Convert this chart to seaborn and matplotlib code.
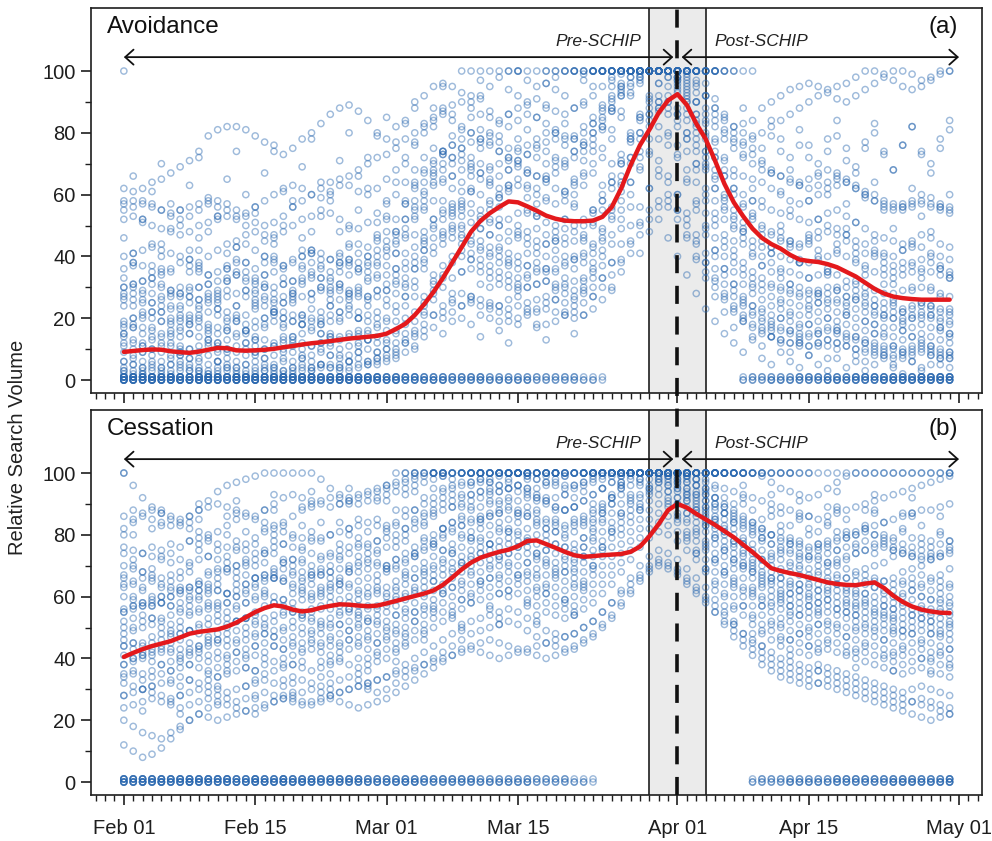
import numpy as np
import pandas as pd
import matplotlib
matplotlib.use("Agg")
import matplotlib.pyplot as plt
import matplotlib.dates as mdates
from matplotlib.lines import Line2D
import seaborn as sns

# ---------------- data ----------------
START = "2015-02-01"
N_DAYS = 89
dates = pd.date_range(START, periods=N_DAYS, freq="D")

tick_dates = ["2015-02-01", "2015-02-15", "2015-03-01", "2015-03-15",
              "2015-04-01", "2015-04-15", "2015-05-01"]
window_start, window_end, schip_date = "2015-03-29", "2015-04-04", "2015-04-01"
panel_titles = ["Avoidance", "Cessation"]
panel_tags = ["(a)", "(b)"]

# smoothed mean (red line)
red_a = [9.1, 9.4, 9.7, 9.9, 9.8, 9.3, 9.0, 8.8, 9.2, 9.8,
         10.4, 10.3, 9.6, 9.5, 9.6, 9.8, 10.1, 10.6, 11.0, 11.5,
         11.9, 12.2, 12.6, 13.0, 13.4, 13.7, 14.0, 14.3, 15.0, 16.5,
         18.2, 21.0, 24.5, 28.5, 33.0, 38.0, 43.0, 48.0, 51.5, 54.0,
         56.0, 57.8, 57.5, 56.2, 54.8, 53.2, 52.2, 51.6, 51.4, 51.4,
         51.6, 52.8, 56.0, 62.0, 69.5, 76.0, 81.0, 86.5, 90.5, 92.5,
         89.0, 83.0, 78.0, 71.0, 63.5, 57.5, 53.0, 49.0, 46.0, 44.0,
         42.5, 40.5, 39.0, 38.5, 38.2, 37.5, 36.5, 35.0, 33.5, 31.5,
         29.5, 28.0, 27.0, 26.5, 26.2, 26.0, 26.0, 26.0, 26.0]
red_b = [40.5, 41.8, 43.0, 44.0, 44.8, 45.6, 46.8, 48.0, 48.6, 49.0,
         49.4, 50.3, 51.6, 53.3, 55.0, 56.3, 57.2, 56.8, 55.8, 55.2,
         55.6, 56.4, 57.0, 57.5, 57.4, 57.1, 56.9, 57.1, 57.8, 58.6,
         59.4, 60.2, 61.0, 62.0, 63.8, 66.2, 68.8, 71.0, 72.6, 73.6,
         74.5, 75.2, 76.3, 78.0, 78.2, 77.0, 75.8, 74.5, 73.4, 72.9,
         73.1, 73.4, 73.6, 73.8, 74.5, 76.2, 79.5, 83.5, 88.0, 90.0,
         88.8, 86.8, 85.0, 83.2, 81.2, 79.2, 76.8, 74.4, 71.8, 69.2,
         68.3, 67.6, 67.0, 66.2, 65.4, 64.6, 64.1, 63.8, 63.7, 64.2,
         64.6, 62.8, 60.3, 58.3, 56.8, 55.8, 55.2, 54.8, 54.7]

# number of series sitting at zero / at 100 on each day
zeros_a = [14, 14, 13, 14, 13, 14, 13, 13, 14, 13,
           13, 12, 13, 12, 13, 12, 12, 13, 12, 12,
           12, 11, 11, 12, 11, 11, 10, 10, 9, 9,
           8, 8, 7, 7, 7, 6, 6, 6, 6, 5,
           5, 5, 5, 5, 4, 4, 4, 4, 4, 3,
           3, 2, 0, 0, 0, 0, 0, 0, 0, 0,
           0, 0, 0, 0, 0, 0, 3, 4, 4, 5,
           5, 5, 6, 6, 6, 7, 7, 7, 8, 8,
           8, 9, 9, 9, 9, 10, 10, 10, 10]
hund_a = [1, 0, 0, 0, 0, 0, 0, 0, 0, 0,
          0, 0, 0, 0, 0, 0, 0, 0, 0, 0,
          0, 0, 0, 0, 0, 0, 0, 0, 0, 0,
          0, 0, 0, 0, 0, 0, 1, 1, 1, 1,
          1, 1, 1, 1, 1, 2, 1, 2, 3, 3,
          4, 5, 6, 7, 8, 9, 10, 11, 12, 12,
          11, 9, 7, 5, 3, 2, 1, 1, 0, 0,
          0, 0, 0, 0, 0, 0, 0, 0, 0, 0,
          0, 0, 0, 0, 0, 0, 0, 0, 0]
zeros_b = [10, 10, 11, 10, 11, 10, 10, 11, 10, 10,
           10, 10, 9, 9, 10, 9, 9, 10, 9, 9,
           9, 8, 8, 8, 8, 8, 7, 7, 7, 7,
           7, 7, 6, 6, 6, 6, 6, 6, 5, 5,
           5, 5, 5, 5, 4, 4, 4, 4, 3, 3,
           2, 0, 0, 0, 0, 0, 0, 0, 0, 0,
           0, 0, 0, 0, 0, 0, 0, 3, 4, 4,
           4, 5, 5, 5, 5, 5, 6, 6, 6, 6,
           6, 6, 7, 7, 7, 7, 7, 7, 8]
hund_b = [1, 0, 0, 0, 0, 0, 0, 0, 0, 0,
          0, 0, 0, 0, 0, 0, 0, 0, 0, 0,
          0, 0, 0, 0, 0, 0, 0, 0, 0, 1,
          2, 2, 2, 3, 3, 3, 4, 4, 5, 5,
          6, 6, 7, 7, 6, 5, 5, 4, 4, 4,
          5, 6, 7, 8, 10, 12, 14, 15, 16, 16,
          15, 13, 11, 9, 7, 6, 5, 4, 4, 3,
          3, 3, 2, 2, 1, 1, 1, 1, 1, 1,
          1, 1, 1, 1, 1, 1, 1, 1, 1]

# individual search-volume series, panel (a)
a01 = [62, 61, 62, 64, 65, 67, 69, 71, 74, 79, 81, 82, 82, 81, 79, 77, 74, 73, 75, 78,
       80, 83, 86, 88, 89, 87, 84, 80, 78, 82, 84, 88, 92, 95, 96, 95, 93, 90, 92, 95,
       98, 100, 100, 97, 95, 96, 98, 100, 100, 99, 100, 100, 98, 100, 100, 100, 100, 100, 100, 100,
       98, 95, 92, 88, 85, 82, 80, 84, 88, 90, 92, 94, 95, 96, 95, 93, 91, 90, 92, 94,
       96, 98, 100, 100, 99, 97, 98, 100, 100]
a02 = [57, 58, 57, 56, 55, 54, 55, 56, 57, 58, 56, 55, 53, 54, 56, 58, 60, 61, 63, 62,
       60, 59, 61, 63, 66, 68, 70, 72, 73, 75, 78, 80, 83, 85, 86, 84, 82, 80, 78, 77,
       79, 82, 84, 86, 85, 83, 80, 78, 79, 82, 85, 88, 92, 96, 100, 100, 100, 100, 100, 98,
       95, 90, 84, 78, 72, 68, 66, 65, 64, 62, 60, 58, 57, 58, 60, 62, 63, 64, 62, 60,
       58, 56, 55, 56, 58, 60, 59, 57, 56]
a03 = [52, 53, 51, 50, 49, 48, 47, 48, 50, 51, 52, 53, 52, 50, 48, 47, 46, 48, 50, 52,
       53, 55, 54, 52, 50, 49, 51, 54, 57, 60, 64, 68, 72, 75, 73, 70, 68, 66, 67, 69,
       70, 72, 70, 68, 66, 65, 67, 70, 72, 74, 78, 82, 87, 92, 96, 99, 100, 100, 100, 97,
       92, 86, 80, 74, 68, 62, 57, 53, 50, 48, 46, 45, 44, 46, 48, 50, 49, 47, 45, 44,
       42, 41, 40, 42, 44, 43, 41, 40, 39]
a04 = [40, 41, 42, 43, 42, 41, 40, 39, 38, 40, 42, 44, 45, 44, 42, 40, 38, 37, 38, 40,
       42, 41, 39, 38, 37, 38, 40, 42, 45, 48, 52, 56, 60, 63, 65, 66, 64, 62, 60, 58,
       59, 61, 63, 62, 60, 58, 57, 58, 60, 63, 67, 72, 78, 85, 92, 96, 100, 100, 98, 95,
       88, 80, 72, 65, 58, 52, 48, 45, 43, 41, 40, 39, 38, 38, 39, 40, 41, 40, 38, 36,
       35, 34, 33, 34, 35, 36, 35, 34, 33]
a05 = [30, 31, 32, 31, 30, 29, 28, 29, 30, 31, 32, 33, 34, 33, 32, 31, 30, 31, 32, 33,
       34, 33, 32, 30, 29, 28, 27, 29, 31, 34, 38, 43, 48, 52, 55, 57, 56, 54, 52, 51,
       50, 52, 54, 55, 53, 51, 50, 49, 50, 52, 55, 60, 66, 73, 80, 86, 90, 92, 90, 86,
       80, 74, 68, 62, 56, 50, 46, 43, 40, 38, 36, 35, 34, 33, 34, 35, 34, 32, 31, 30,
       29, 28, 28, 29, 30, 30, 29, 28, 27]
a06 = [27, 28, 26, 25, 26, 27, 28, 27, 26, 25, 26, 27, 28, 29, 28, 27, 26, 25, 26, 27,
       28, 29, 30, 29, 28, 27, 26, 27, 29, 32, 36, 40, 45, 50, 54, 56, 58, 57, 55, 52,
       50, 48, 47, 46, 45, 44, 45, 46, 48, 50, 54, 58, 64, 70, 78, 85, 92, 96, 98, 94,
       86, 78, 70, 62, 55, 49, 44, 40, 37, 35, 33, 31, 30, 29, 28, 28, 29, 30, 29, 27,
       26, 25, 24, 23, 24, 25, 24, 23, 22]
a07 = [19, 20, 21, 20, 19, 18, 19, 20, 21, 22, 21, 20, 19, 18, 19, 20, 21, 22, 21, 20,
       19, 20, 21, 22, 23, 22, 21, 22, 24, 28, 33, 38, 44, 49, 52, 54, 53, 51, 49, 47,
       46, 45, 46, 48, 49, 47, 45, 44, 45, 47, 50, 55, 62, 70, 78, 84, 88, 90, 88, 84,
       78, 70, 62, 54, 47, 42, 38, 35, 33, 31, 30, 29, 28, 28, 29, 30, 29, 27, 26, 25,
       24, 23, 22, 22, 23, 24, 23, 22, 21]
a08 = [17, 18, 17, 16, 15, 16, 17, 18, 19, 18, 17, 16, 15, 16, 17, 18, 19, 20, 19, 18,
       17, 18, 19, 20, 21, 20, 19, 18, 20, 24, 30, 36, 42, 46, 48, 50, 49, 47, 45, 43,
       42, 41, 40, 41, 43, 44, 42, 40, 39, 40, 43, 48, 55, 63, 72, 80, 86, 90, 92, 88,
       80, 70, 60, 52, 45, 40, 36, 33, 31, 30, 29, 28, 27, 26, 25, 25, 26, 27, 26, 24,
       22, 21, 20, 20, 21, 22, 21, 20, 19]
a09 = [14, 13, 12, 13, 14, 15, 16, 15, 14, 13, 12, 13, 14, 15, 14, 13, 12, 13, 14, 15,
       16, 15, 14, 13, 14, 15, 16, 17, 19, 22, 27, 32, 38, 43, 46, 48, 46, 44, 42, 40,
       38, 37, 36, 37, 38, 40, 39, 37, 36, 38, 41, 46, 53, 61, 70, 78, 84, 88, 90, 86,
       78, 68, 58, 50, 43, 38, 34, 31, 29, 27, 26, 25, 24, 24, 25, 26, 25, 24, 23, 22,
       21, 20, 20, 19, 20, 21, 20, 19, 18]
a10 = [11, 12, 11, 10, 11, 12, 11, 10, 11, 12, 11, 10, 11, 12, 11, 10, 11, 12, 13, 12,
       11, 12, 13, 14, 15, 14, 13, 14, 16, 19, 24, 30, 36, 41, 44, 46, 47, 45, 43, 41,
       40, 39, 38, 37, 36, 35, 36, 38, 39, 41, 44, 49, 56, 64, 72, 80, 86, 88, 86, 82,
       74, 64, 54, 46, 40, 35, 31, 28, 26, 24, 23, 22, 21, 21, 22, 23, 22, 21, 20, 19,
       18, 17, 17, 16, 17, 18, 17, 16, 15]
a11 = [9, 8, 9, 10, 9, 8, 9, 10, 9, 8, 9, 10, 9, 8, 9, 10, 11, 10, 9, 10,
       11, 12, 11, 10, 11, 12, 13, 12, 13, 15, 18, 22, 27, 32, 37, 40, 42, 41, 39, 37,
       35, 34, 33, 34, 35, 36, 35, 33, 32, 33, 36, 40, 47, 55, 64, 72, 78, 82, 80, 76,
       68, 58, 50, 42, 36, 31, 27, 24, 22, 21, 20, 19, 18, 18, 19, 20, 19, 18, 17, 16,
       15, 14, 14, 13, 14, 15, 14, 13, 12]
a12 = [6, 7, 6, 5, 6, 7, 8, 7, 6, 5, 6, 7, 6, 5, 6, 7, 8, 7, 6, 7,
       8, 9, 8, 7, 8, 9, 10, 9, 10, 12, 15, 19, 24, 29, 34, 38, 40, 39, 37, 35,
       33, 32, 31, 30, 31, 32, 31, 30, 29, 30, 33, 37, 44, 52, 60, 68, 74, 78, 76, 72,
       64, 55, 47, 40, 34, 29, 25, 22, 20, 18, 17, 16, 15, 15, 16, 17, 16, 15, 14, 13,
       12, 11, 11, 10, 11, 12, 11, 10, 9]
a13 = [4, 5, 4, 3, 4, 5, 6, 5, 4, 3, 4, 5, 4, 3, 4, 5, 4, 3, 4, 5,
       6, 5, 4, 5, 6, 7, 6, 7, 8, 10, 12, 15, 18, 21, 24, 26, 28, 27, 26, 25,
       24, 23, 24, 25, 26, 27, 26, 25, 24, 25, 27, 30, 34, 39, 45, 50, 55, 58, 56, 52,
       46, 40, 35, 30, 26, 22, 19, 17, 15, 14, 13, 12, 12, 11, 12, 13, 12, 11, 10, 10,
       9, 9, 8, 8, 9, 10, 9, 8, 8]
a14 = [24, 26, 28, 25, 22, 20, 23, 27, 30, 28, 25, 22, 24, 27, 29, 26, 23, 25, 28, 31,
       33, 30, 28, 31, 34, 36, 38, 40, 43, 47, 52, 58, 64, 70, 74, 76, 75, 72, 70, 68,
       66, 68, 71, 73, 72, 70, 69, 71, 74, 77, 80, 84, 88, 92, 95, 98, 100, 100, 100, 96,
       90, 84, 78, 72, 66, 62, 60, 58, 56, 55, 54, 53, 52, 51, 52, 54, 55, 53, 51, 49,
       47, 46, 45, 44, 45, 47, 46, 44, 43]
a15 = [36, 38, 37, 35, 34, 36, 38, 37, 35, 34, 35, 37, 39, 38, 36, 34, 35, 37, 39, 40,
       38, 36, 35, 37, 39, 41, 43, 45, 48, 52, 57, 62, 67, 71, 74, 76, 78, 80, 81, 79,
       77, 75, 74, 76, 78, 80, 81, 79, 78, 80, 83, 87, 91, 95, 98, 100, 100, 100, 100, 98,
       94, 90, 86, 82, 78, 75, 72, 70, 68, 67, 66, 65, 64, 65, 67, 68, 67, 65, 63, 61,
       60, 58, 57, 56, 57, 58, 57, 56, 55]
a16 = [2, 3, 2, 1, 2, 3, 4, 3, 2, 1, 2, 3, 2, 1, 2, 3, 4, 3, 2, 3,
       4, 5, 4, 3, 4, 5, 6, 5, 6, 7, 9, 11, 14, 17, 20, 22, 24, 25, 24, 23,
       22, 21, 20, 21, 22, 23, 22, 21, 20, 21, 23, 26, 30, 35, 41, 47, 52, 56, 58, 55,
       50, 44, 38, 33, 28, 24, 21, 18, 16, 14, 13, 12, 11, 11, 12, 13, 12, 11, 10, 9,
       8, 8, 7, 7, 8, 9, 8, 7, 7]
a17 = [15, 17, 20, 22, 24, 23, 21, 19, 17, 16, 15, 17, 19, 21, 23, 24, 22, 20, 19, 18,
       20, 22, 24, 26, 28, 30, 32, 34, 37, 41, 46, 52, 58, 64, 68, 72, 75, 77, 78, 76,
       74, 72, 71, 73, 75, 77, 78, 76, 74, 76, 80, 85, 90, 95, 100, 100, 100, 100, 100, 100,
       97, 93, 88, 84, 80, 78, 77, 78, 80, 82, 84, 86, 88, 90, 92, 94, 95, 96, 98, 100,
       100, 99, 97, 95, 94, 95, 97, 99, 100]
a18 = [55, 56, 58, 57, 55, 53, 52, 53, 55, 57, 58, 57, 55, 53, 51, 50, 51, 53, 56, 58,
       60, 62, 64, 65, 63, 61, 60, 62, 65, 68, 72, 76, 80, 84, 87, 89, 90, 88, 86, 85,
       84, 86, 88, 90, 91, 89, 87, 86, 88, 90, 92, 95, 97, 99, 100, 100, 100, 100, 100, 100,
       99, 96, 92, 88, 84, 80, 76, 73, 70, 68, 66, 64, 63, 62, 63, 64, 65, 64, 62, 60,
       58, 57, 56, 55, 56, 57, 56, 55, 54]
a19 = [3, 2, 3, 4, 3, 2, 3, 4, 3, 2, 3, 4, 3, 2, 3, 4, 3, 2, 3, 4,
       3, 4, 5, 4, 3, 4, 5, 6, 7, 9, 12, 16, 21, 26, 30, 33, 35, 36, 35, 33,
       31, 30, 29, 30, 31, 32, 30, 28, 27, 28, 30, 33, 38, 44, 50, 56, 62, 66, 64, 60,
       54, 47, 41, 36, 31, 27, 24, 21, 19, 17, 16, 15, 14, 14, 15, 16, 15, 14, 13, 12,
       11, 10, 10, 9, 10, 11, 10, 9, 9]
a20 = [28, 30, 32, 33, 31, 29, 27, 25, 24, 26, 29, 32, 34, 35, 33, 30, 28, 27, 29, 32,
       35, 37, 39, 40, 38, 36, 35, 37, 40, 44, 49, 55, 61, 66, 70, 72, 71, 68, 65, 63,
       62, 63, 65, 67, 66, 64, 62, 61, 63, 66, 70, 75, 81, 87, 93, 98, 100, 100, 100, 98,
       93, 86, 79, 72, 66, 60, 56, 52, 49, 47, 45, 44, 43, 44, 46, 48, 47, 45, 43, 41,
       40, 38, 37, 36, 37, 39, 38, 36, 35]
a21 = [18, 24, 15, 22, 27, 19, 14, 21, 26, 17, 23, 29, 20, 16, 24, 30, 22, 18, 25, 21,
       28, 19, 24, 31, 26, 20, 27, 33, 29, 36, 41, 47, 39, 52, 58, 49, 55, 61, 53, 47,
       56, 62, 50, 44, 53, 59, 48, 52, 57, 46, 55, 63, 70, 66, 79, 85, 91, 96, 100, 93,
       84, 76, 69, 58, 52, 45, 49, 41, 37, 43, 35, 31, 38, 33, 27, 34, 30, 25, 32, 28,
       24, 31, 26, 22, 29, 25, 21, 27, 23]
a22 = [33, 41, 29, 37, 44, 35, 30, 39, 46, 34, 28, 36, 43, 38, 31, 40, 47, 36, 32, 42,
       48, 39, 33, 41, 49, 44, 37, 46, 52, 48, 57, 63, 55, 68, 74, 66, 61, 70, 77, 65,
       59, 68, 75, 63, 57, 66, 72, 60, 64, 71, 76, 82, 88, 94, 100, 97, 100, 100, 95, 100,
       91, 83, 74, 68, 60, 55, 51, 58, 47, 43, 50, 45, 39, 47, 42, 36, 44, 49, 41, 37,
       45, 40, 35, 42, 38, 33, 40, 36, 34]
a23 = [6, 10, 4, 8, 12, 5, 9, 3, 7, 11, 6, 9, 4, 10, 13, 7, 5, 9, 12, 8,
       4, 10, 14, 8, 6, 11, 15, 9, 12, 16, 20, 14, 25, 31, 22, 28, 35, 26, 21, 30,
       24, 19, 27, 33, 23, 18, 26, 31, 22, 29, 35, 42, 38, 49, 56, 51, 62, 68, 60, 55,
       47, 39, 33, 27, 22, 17, 20, 14, 11, 16, 12, 9, 13, 8, 11, 7, 10, 13, 8, 6,
       10, 7, 5, 9, 6, 4, 8, 5, 7]
a24 = [46, 38, 52, 44, 36, 49, 55, 42, 37, 48, 53, 41, 35, 47, 56, 45, 39, 50, 58, 46,
       41, 53, 60, 48, 43, 55, 62, 51, 58, 64, 70, 77, 68, 82, 88, 79, 73, 85, 91, 80,
       74, 86, 92, 81, 76, 88, 94, 83, 78, 89, 95, 100, 100, 100, 100, 100, 100, 100, 100, 100,
       96, 90, 83, 77, 71, 66, 73, 62, 58, 67, 61, 55, 63, 58, 52, 60, 66, 57, 51, 59,
       64, 55, 49, 57, 62, 53, 48, 56, 60]
a25 = [12, 17, 9, 14, 19, 11, 8, 15, 20, 13, 10, 16, 21, 12, 9, 17, 22, 14, 11, 18,
       23, 15, 12, 19, 24, 16, 13, 20, 26, 31, 27, 36, 42, 34, 47, 53, 44, 39, 49, 55,
       43, 38, 48, 54, 41, 36, 46, 52, 40, 45, 51, 58, 64, 71, 77, 74, 82, 87, 79, 73,
       65, 57, 49, 42, 36, 31, 26, 30, 23, 19, 25, 21, 17, 23, 28, 20, 16, 22, 27, 19,
       15, 21, 25, 18, 14, 20, 24, 17, 15]
a26 = [26, 31, 22, 28, 35, 24, 20, 30, 36, 27, 23, 32, 38, 29, 25, 34, 40, 31, 27, 36,
       42, 33, 29, 38, 44, 35, 40, 47, 53, 45, 58, 64, 56, 67, 73, 62, 57, 69, 75, 64,
       60, 71, 78, 67, 62, 74, 80, 69, 65, 76, 83, 89, 95, 100, 100, 100, 100, 100, 100, 100,
       100, 97, 92, 86, 81, 77, 83, 75, 71, 79, 74, 68, 76, 72, 66, 74, 79, 71, 67, 75,
       80, 73, 68, 76, 82, 74, 70, 78, 84]
a27 = [3, 5, 2, 6, 4, 1, 5, 7, 3, 2, 6, 4, 1, 5, 8, 3, 2, 6, 4, 7,
       3, 5, 8, 4, 6, 9, 5, 7, 10, 8, 13, 10, 16, 21, 15, 19, 24, 18, 14, 20,
       16, 12, 18, 23, 17, 13, 19, 22, 15, 21, 27, 33, 29, 38, 44, 41, 48, 52, 46, 40,
       34, 28, 23, 19, 15, 12, 9, 13, 7, 5, 9, 6, 4, 8, 5, 3, 7, 4, 6, 3,
       5, 8, 4, 2, 6, 3, 5, 7, 4]
a28 = [58, 66, 52, 61, 70, 57, 50, 63, 72, 59, 53, 65, 74, 60, 54, 67, 76, 62, 56, 69,
       78, 64, 58, 71, 80, 66, 72, 79, 85, 77, 83, 90, 82, 88, 95, 86, 81, 92, 97, 87,
       83, 94, 100, 89, 85, 96, 100, 92, 88, 97, 100, 100, 100, 100, 100, 100, 100, 100, 100, 100,
       100, 100, 96, 91, 86, 82, 88, 79, 75, 84, 78, 72, 81, 76, 70, 78, 84, 75, 69, 77,
       83, 74, 68, 76, 82, 73, 67, 75, 81]
a29 = [30, 37, 25, 33, 40, 28, 24, 35, 42, 31, 27, 36, 43, 32, 26, 38, 44, 33, 28, 37,
       41, 30, 26, 35, 39, 29, 33, 38, 42, 36, 31, 27, 22, 28, 33, 25, 20, 27, 31, 24,
       19, 26, 30, 22, 18, 25, 29, 21, 26, 32, 38, 45, 52, 58, 64, 69, 73, 71, 66, 60,
       52, 45, 38, 32, 27, 23, 19, 24, 17, 14, 20, 16, 12, 18, 15, 11, 17, 21, 14, 12,
       18, 15, 11, 16, 20, 13, 11, 17, 14]
a30 = [15, 20, 11, 17, 22, 14, 10, 18, 23, 15, 12, 19, 24, 16, 13, 20, 25, 17, 14, 21,
       26, 18, 15, 22, 27, 20, 24, 29, 34, 41, 47, 53, 46, 58, 64, 55, 50, 61, 67, 57,
       52, 63, 69, 59, 54, 65, 71, 61, 56, 67, 74, 81, 87, 93, 98, 100, 100, 100, 100, 97,
       90, 82, 74, 66, 59, 53, 48, 54, 45, 41, 48, 43, 38, 45, 40, 35, 42, 47, 39, 34,
       41, 36, 31, 38, 43, 35, 30, 37, 33]

# individual search-volume series, panel (b)
b01 = [100, 96, 92, 89, 87, 86, 85, 86, 88, 91, 94, 96, 97, 98, 99, 100, 100, 100, 100, 100,
       100, 98, 95, 93, 92, 93, 94, 95, 96, 97, 98, 100, 100, 100, 100, 100, 100, 100, 100, 100,
       100, 100, 100, 100, 100, 100, 100, 100, 100, 100, 100, 100, 100, 100, 100, 100, 100, 100, 100, 100,
       100, 100, 100, 100, 100, 100, 100, 100, 99, 97, 95, 94, 93, 92, 93, 95, 97, 99, 100, 100,
       100, 100, 100, 100, 100, 100, 100, 100, 100]
b02 = [82, 84, 86, 88, 87, 85, 83, 82, 81, 80, 81, 83, 85, 86, 85, 84, 83, 84, 86, 88,
       90, 91, 92, 92, 91, 90, 91, 92, 93, 94, 95, 96, 97, 98, 99, 100, 100, 100, 100, 100,
       100, 100, 100, 99, 98, 97, 98, 99, 100, 100, 100, 100, 100, 100, 100, 100, 100, 100, 100, 100,
       100, 98, 95, 92, 89, 87, 85, 83, 82, 80, 79, 78, 77, 76, 77, 78, 79, 80, 81, 82,
       83, 84, 85, 86, 87, 88, 88, 89, 90]
b03 = [76, 75, 74, 73, 72, 74, 76, 78, 79, 78, 77, 76, 75, 77, 79, 81, 82, 81, 80, 79,
       78, 79, 80, 81, 82, 83, 84, 83, 82, 84, 86, 88, 90, 92, 94, 95, 96, 97, 98, 97,
       96, 95, 94, 93, 92, 91, 92, 93, 95, 96, 97, 98, 99, 100, 100, 100, 100, 100, 100, 100,
       99, 96, 93, 90, 87, 84, 82, 80, 78, 77, 76, 75, 74, 73, 72, 71, 72, 73, 74, 75,
       76, 77, 76, 75, 74, 73, 72, 73, 74]
b04 = [70, 69, 68, 67, 66, 67, 68, 70, 72, 73, 72, 71, 70, 71, 72, 74, 76, 77, 76, 75,
       74, 73, 74, 75, 76, 77, 76, 75, 76, 78, 80, 82, 84, 86, 88, 89, 90, 91, 92, 93,
       94, 95, 96, 95, 93, 91, 89, 88, 89, 91, 93, 95, 97, 99, 100, 100, 100, 100, 100, 99,
       97, 94, 91, 88, 85, 82, 79, 77, 75, 73, 72, 71, 70, 69, 70, 71, 70, 69, 68, 67,
       66, 65, 64, 65, 66, 67, 66, 65, 64]
b05 = [64, 65, 66, 65, 64, 63, 62, 63, 65, 67, 68, 69, 68, 67, 66, 67, 69, 71, 72, 71,
       70, 69, 68, 69, 70, 71, 72, 71, 70, 72, 74, 76, 78, 80, 82, 84, 86, 88, 89, 90,
       91, 92, 91, 89, 87, 85, 84, 83, 84, 86, 88, 90, 93, 96, 99, 100, 100, 100, 100, 98,
       95, 92, 89, 86, 83, 80, 77, 74, 72, 70, 69, 68, 67, 66, 67, 68, 67, 66, 65, 64,
       63, 62, 62, 61, 62, 63, 62, 61, 60]
b06 = [60, 59, 58, 57, 58, 60, 62, 63, 64, 63, 62, 61, 62, 64, 66, 67, 66, 65, 64, 65,
       66, 67, 66, 65, 64, 65, 66, 67, 68, 69, 71, 73, 75, 77, 79, 81, 83, 85, 86, 87,
       88, 89, 88, 86, 84, 82, 81, 80, 81, 83, 85, 87, 90, 93, 96, 98, 100, 100, 99, 97,
       94, 91, 88, 85, 82, 78, 75, 72, 70, 68, 66, 65, 64, 63, 64, 65, 64, 63, 62, 61,
       60, 59, 58, 58, 59, 60, 59, 58, 57]
b07 = [56, 57, 58, 59, 58, 57, 56, 57, 59, 61, 62, 61, 60, 61, 63, 65, 66, 65, 63, 62,
       61, 62, 63, 64, 63, 62, 61, 62, 63, 65, 67, 69, 71, 73, 75, 77, 79, 81, 82, 83,
       84, 85, 84, 82, 80, 78, 77, 76, 77, 79, 81, 84, 87, 90, 93, 96, 98, 99, 98, 96,
       93, 90, 87, 84, 81, 77, 74, 71, 68, 66, 64, 63, 62, 61, 62, 63, 62, 61, 60, 59,
       58, 57, 56, 55, 56, 57, 56, 55, 54]
b08 = [52, 53, 54, 53, 52, 51, 52, 54, 56, 57, 56, 55, 56, 58, 60, 61, 60, 59, 58, 59,
       60, 61, 60, 59, 58, 59, 60, 61, 60, 62, 64, 66, 68, 70, 72, 74, 76, 78, 79, 80,
       81, 82, 81, 79, 77, 75, 74, 73, 74, 76, 78, 81, 84, 87, 90, 93, 96, 98, 97, 95,
       92, 89, 86, 83, 80, 76, 73, 70, 67, 64, 62, 61, 60, 59, 60, 61, 60, 59, 58, 57,
       56, 55, 54, 53, 54, 55, 54, 53, 52]
b09 = [48, 49, 50, 51, 50, 49, 48, 49, 51, 53, 54, 53, 52, 53, 55, 57, 58, 57, 56, 55,
       56, 57, 58, 57, 56, 55, 56, 57, 58, 59, 61, 63, 65, 67, 69, 71, 73, 75, 76, 77,
       78, 79, 78, 76, 74, 72, 71, 70, 71, 73, 75, 78, 81, 84, 88, 92, 95, 97, 96, 94,
       91, 88, 85, 82, 78, 74, 71, 68, 65, 62, 60, 59, 58, 57, 58, 59, 58, 57, 56, 55,
       54, 53, 52, 51, 52, 53, 52, 51, 50]
b10 = [46, 45, 44, 45, 46, 47, 48, 49, 48, 47, 48, 50, 52, 53, 52, 51, 52, 54, 55, 54,
       53, 52, 53, 54, 55, 54, 53, 54, 55, 57, 59, 61, 63, 65, 67, 69, 71, 73, 74, 75,
       76, 77, 76, 74, 72, 70, 69, 68, 69, 71, 73, 76, 79, 82, 86, 90, 93, 95, 94, 92,
       89, 86, 83, 80, 76, 72, 69, 66, 63, 60, 58, 57, 56, 55, 56, 57, 56, 55, 54, 53,
       52, 51, 50, 49, 50, 51, 50, 49, 48]
b11 = [44, 43, 42, 43, 44, 45, 46, 45, 44, 45, 46, 48, 49, 50, 51, 50, 49, 50, 52, 53,
       52, 51, 50, 51, 52, 53, 52, 51, 52, 54, 56, 58, 60, 62, 64, 66, 68, 70, 71, 72,
       73, 74, 73, 71, 69, 67, 66, 65, 66, 68, 70, 73, 76, 80, 84, 88, 91, 93, 92, 90,
       87, 84, 81, 77, 73, 69, 66, 63, 60, 58, 56, 55, 54, 53, 54, 55, 54, 53, 52, 51,
       50, 49, 48, 47, 48, 49, 48, 47, 46]
b12 = [41, 40, 41, 42, 43, 42, 41, 42, 43, 44, 45, 44, 45, 46, 47, 48, 47, 46, 47, 48,
       49, 48, 47, 48, 49, 50, 49, 48, 49, 51, 53, 55, 57, 59, 61, 63, 65, 67, 68, 69,
       70, 71, 70, 68, 66, 64, 63, 62, 63, 65, 67, 70, 73, 77, 81, 85, 88, 90, 89, 87,
       84, 81, 78, 74, 70, 66, 63, 60, 57, 55, 53, 52, 51, 50, 51, 52, 51, 50, 49, 48,
       47, 46, 45, 44, 45, 46, 45, 44, 43]
b13 = [38, 39, 40, 39, 38, 39, 40, 41, 42, 41, 40, 41, 42, 43, 44, 45, 44, 43, 44, 45,
       46, 45, 44, 45, 46, 47, 46, 45, 46, 48, 50, 52, 54, 56, 58, 60, 62, 64, 65, 66,
       67, 68, 67, 65, 63, 61, 60, 59, 60, 62, 64, 67, 70, 74, 78, 82, 85, 87, 86, 84,
       81, 78, 75, 71, 67, 63, 60, 57, 54, 52, 50, 49, 48, 47, 48, 49, 48, 47, 46, 45,
       44, 43, 42, 41, 42, 43, 42, 41, 40]
b14 = [35, 36, 35, 34, 35, 36, 37, 38, 37, 36, 37, 38, 39, 40, 41, 40, 39, 40, 41, 42,
       43, 42, 41, 42, 43, 44, 43, 42, 43, 45, 47, 49, 51, 53, 55, 57, 59, 61, 62, 63,
       64, 65, 64, 62, 60, 58, 57, 56, 57, 59, 61, 64, 67, 71, 75, 79, 82, 84, 83, 81,
       78, 75, 72, 68, 64, 60, 57, 54, 51, 49, 47, 46, 45, 44, 45, 46, 45, 44, 43, 42,
       41, 40, 39, 38, 39, 40, 39, 38, 37]
b15 = [32, 31, 30, 31, 32, 33, 34, 33, 32, 33, 34, 35, 36, 37, 36, 35, 36, 37, 38, 37,
       36, 37, 38, 39, 38, 37, 38, 39, 40, 42, 44, 46, 48, 50, 52, 54, 56, 58, 59, 60,
       61, 62, 61, 59, 57, 55, 54, 53, 54, 56, 58, 61, 64, 68, 72, 76, 79, 81, 80, 78,
       75, 72, 69, 65, 61, 57, 54, 51, 48, 46, 44, 43, 42, 41, 42, 43, 42, 41, 40, 39,
       38, 37, 36, 35, 36, 37, 36, 35, 34]
b16 = [28, 29, 30, 29, 28, 27, 28, 29, 30, 31, 30, 29, 30, 31, 32, 33, 32, 31, 32, 33,
       32, 31, 32, 33, 34, 33, 32, 33, 34, 36, 38, 40, 42, 44, 46, 48, 50, 52, 53, 54,
       55, 56, 55, 53, 51, 49, 48, 47, 48, 50, 52, 55, 58, 62, 66, 70, 73, 75, 74, 72,
       69, 66, 63, 59, 55, 51, 48, 45, 42, 40, 38, 37, 36, 35, 36, 37, 36, 35, 34, 33,
       32, 31, 30, 29, 30, 31, 30, 29, 28]
b17 = [24, 25, 26, 27, 26, 25, 24, 25, 26, 27, 28, 27, 26, 27, 28, 29, 28, 27, 28, 29,
       30, 29, 28, 29, 30, 31, 30, 29, 30, 32, 34, 36, 38, 40, 42, 44, 46, 48, 49, 50,
       51, 52, 51, 49, 47, 45, 44, 43, 44, 46, 48, 51, 54, 58, 62, 66, 69, 71, 70, 68,
       65, 62, 59, 55, 51, 47, 44, 41, 38, 36, 34, 33, 32, 31, 32, 33, 32, 31, 30, 29,
       28, 27, 26, 25, 26, 27, 26, 25, 24]
b18 = [12, 10, 8, 9, 11, 14, 17, 20, 22, 24, 26, 25, 24, 23, 22, 24, 26, 28, 27, 26,
       25, 26, 27, 26, 25, 24, 25, 26, 27, 29, 31, 33, 35, 37, 39, 41, 43, 44, 45, 46,
       45, 44, 43, 42, 41, 40, 41, 42, 43, 45, 47, 50, 53, 57, 61, 65, 68, 70, 69, 67,
       64, 61, 58, 55, 52, 49, 46, 43, 40, 38, 36, 35, 34, 33, 32, 31, 30, 29, 28, 27,
       26, 25, 24, 23, 22, 21, 20, 21, 22]
b19 = [86, 88, 87, 85, 84, 83, 84, 86, 88, 89, 90, 89, 88, 87, 86, 88, 90, 92, 93, 92,
       91, 90, 89, 90, 91, 92, 93, 94, 95, 96, 97, 98, 99, 100, 99, 98, 97, 96, 97, 98,
       99, 100, 100, 99, 98, 97, 96, 95, 96, 97, 98, 99, 100, 100, 100, 100, 100, 100, 100, 100,
       99, 98, 97, 96, 95, 94, 93, 92, 91, 90, 89, 88, 87, 86, 85, 86, 87, 88, 89, 90,
       91, 92, 93, 94, 95, 96, 97, 98, 99]
b20 = [20, 18, 16, 15, 14, 16, 18, 20, 22, 21, 20, 21, 22, 23, 24, 25, 26, 27, 26, 25,
       26, 27, 28, 29, 30, 31, 32, 33, 34, 35, 36, 37, 38, 39, 40, 41, 42, 43, 42, 41,
       40, 41, 42, 43, 44, 45, 46, 47, 48, 50, 52, 55, 58, 61, 64, 67, 70, 72, 71, 69,
       66, 63, 60, 57, 54, 51, 48, 46, 44, 42, 40, 39, 38, 37, 36, 35, 34, 33, 32, 31,
       30, 29, 28, 27, 26, 25, 24, 23, 22]
b21 = [55, 56, 57, 58, 60, 62, 63, 62, 60, 58, 57, 58, 60, 62, 64, 66, 68, 69, 68, 66,
       64, 63, 64, 66, 68, 70, 71, 70, 69, 70, 72, 74, 76, 78, 80, 82, 83, 84, 85, 86,
       87, 88, 87, 86, 85, 84, 83, 82, 83, 85, 87, 89, 92, 95, 98, 100, 100, 100, 99, 97,
       95, 93, 91, 89, 87, 85, 83, 81, 79, 77, 75, 74, 73, 72, 73, 74, 75, 76, 77, 78,
       77, 76, 75, 74, 73, 72, 73, 74, 75]
b22 = [66, 64, 62, 60, 58, 57, 58, 60, 62, 64, 66, 68, 70, 72, 74, 75, 74, 72, 70, 68,
       67, 68, 70, 72, 74, 76, 77, 78, 79, 80, 82, 84, 86, 88, 90, 91, 92, 93, 94, 95,
       96, 97, 96, 94, 92, 90, 89, 88, 89, 91, 93, 95, 97, 99, 100, 100, 100, 100, 100, 100,
       98, 96, 94, 92, 90, 88, 86, 84, 82, 80, 78, 77, 76, 75, 76, 77, 78, 79, 80, 81,
       80, 79, 78, 77, 76, 75, 76, 77, 78]
b23 = [50, 57, 45, 53, 60, 48, 43, 55, 62, 51, 46, 58, 64, 53, 48, 60, 66, 55, 50, 61,
       67, 56, 51, 62, 68, 57, 52, 63, 69, 60, 66, 73, 67, 76, 82, 74, 70, 79, 85, 77,
       72, 81, 87, 78, 73, 82, 88, 79, 75, 84, 90, 95, 100, 97, 100, 100, 100, 100, 100, 98,
       93, 88, 84, 79, 75, 71, 77, 68, 64, 72, 66, 61, 69, 64, 58, 66, 71, 62, 57, 65,
       70, 61, 56, 64, 69, 60, 55, 63, 58]
b24 = [63, 70, 57, 66, 73, 60, 55, 68, 75, 62, 58, 69, 76, 64, 59, 71, 78, 66, 61, 72,
       79, 67, 62, 73, 80, 68, 63, 74, 81, 72, 78, 85, 79, 87, 92, 84, 80, 89, 94, 86,
       82, 91, 96, 87, 83, 92, 97, 88, 85, 94, 99, 100, 100, 100, 100, 100, 100, 100, 100, 100,
       97, 93, 89, 85, 81, 78, 84, 75, 72, 80, 74, 70, 78, 73, 68, 76, 81, 72, 67, 75,
       80, 71, 66, 74, 79, 70, 65, 73, 69]
b25 = [38, 45, 33, 41, 48, 36, 31, 43, 50, 39, 34, 46, 52, 41, 36, 48, 54, 43, 38, 50,
       55, 44, 39, 51, 56, 45, 40, 52, 57, 49, 55, 62, 56, 65, 71, 63, 59, 68, 74, 66,
       61, 70, 76, 67, 62, 71, 77, 68, 64, 73, 79, 85, 90, 95, 100, 98, 100, 100, 96, 92,
       87, 82, 77, 72, 68, 64, 70, 61, 57, 65, 59, 54, 62, 57, 51, 59, 64, 55, 50, 58,
       63, 54, 49, 57, 62, 53, 48, 56, 51]
b26 = [74, 80, 68, 76, 83, 71, 66, 78, 85, 73, 69, 80, 87, 75, 70, 82, 88, 77, 72, 83,
       89, 78, 73, 84, 90, 79, 74, 85, 91, 83, 88, 94, 87, 95, 100, 93, 89, 97, 100, 94,
       90, 98, 100, 95, 91, 99, 100, 96, 92, 100, 100, 100, 100, 100, 100, 100, 100, 100, 100, 100,
       100, 98, 95, 92, 89, 86, 92, 84, 81, 88, 83, 79, 86, 82, 77, 84, 89, 81, 76, 83,
       88, 80, 75, 82, 87, 79, 74, 81, 78]
b27 = [28, 35, 23, 31, 38, 26, 22, 33, 40, 29, 25, 36, 42, 31, 27, 38, 44, 33, 29, 39,
       45, 34, 30, 40, 46, 35, 31, 41, 47, 39, 45, 52, 46, 55, 61, 53, 49, 58, 64, 56,
       51, 60, 66, 57, 52, 61, 67, 58, 54, 63, 69, 75, 81, 86, 91, 88, 94, 97, 90, 85,
       79, 74, 69, 64, 60, 56, 62, 53, 49, 57, 51, 46, 54, 49, 43, 51, 56, 47, 42, 50,
       55, 46, 41, 49, 54, 45, 40, 48, 43]
b28 = [55, 60, 52, 57, 63, 54, 50, 59, 64, 56, 52, 61, 66, 58, 54, 62, 67, 59, 55, 63,
       68, 60, 56, 64, 69, 61, 57, 65, 70, 63, 68, 74, 69, 77, 82, 75, 71, 79, 84, 77,
       73, 81, 86, 78, 74, 80, 85, 76, 72, 79, 84, 88, 92, 96, 100, 97, 100, 100, 94, 90,
       85, 80, 76, 72, 68, 65, 70, 62, 59, 66, 61, 57, 64, 60, 55, 62, 66, 58, 54, 61,
       65, 57, 53, 60, 64, 56, 52, 59, 55]
b29 = [44, 50, 41, 47, 53, 43, 39, 49, 55, 46, 42, 51, 57, 48, 44, 53, 58, 49, 45, 54,
       59, 50, 46, 55, 60, 51, 47, 56, 61, 54, 60, 66, 61, 69, 75, 68, 64, 72, 78, 70,
       66, 74, 80, 71, 67, 75, 81, 72, 68, 76, 82, 87, 92, 97, 100, 100, 100, 100, 99, 95,
       91, 87, 83, 79, 75, 72, 78, 69, 66, 74, 68, 64, 72, 67, 62, 70, 75, 66, 61, 69,
       74, 65, 60, 68, 73, 64, 59, 67, 63]
b30 = [67, 72, 63, 69, 75, 65, 61, 71, 77, 68, 64, 73, 78, 70, 66, 74, 80, 71, 67, 76,
       81, 72, 68, 77, 82, 73, 69, 78, 83, 76, 82, 88, 83, 90, 95, 89, 85, 93, 98, 91,
       87, 95, 100, 92, 88, 96, 100, 93, 89, 97, 100, 100, 100, 100, 100, 100, 100, 100, 100, 100,
       99, 96, 93, 90, 87, 84, 90, 82, 79, 86, 81, 77, 85, 80, 75, 83, 88, 79, 74, 82,
       87, 78, 73, 81, 86, 77, 72, 80, 76]
b31 = [34, 40, 30, 36, 42, 32, 28, 38, 44, 35, 31, 40, 46, 37, 33, 42, 47, 38, 34, 43,
       48, 39, 35, 44, 49, 40, 36, 45, 50, 43, 48, 55, 49, 57, 62, 55, 51, 60, 65, 57,
       53, 62, 67, 58, 54, 63, 68, 59, 55, 64, 70, 76, 82, 87, 92, 89, 95, 98, 91, 86,
       80, 74, 68, 62, 57, 52, 57, 48, 44, 51, 46, 41, 48, 44, 38, 45, 50, 42, 37, 44,
       49, 41, 36, 43, 48, 40, 35, 42, 38]
b32 = [80, 85, 74, 82, 88, 77, 72, 84, 90, 79, 75, 86, 91, 81, 77, 88, 93, 83, 79, 89,
       94, 84, 80, 90, 95, 85, 81, 91, 96, 88, 93, 99, 92, 100, 100, 96, 93, 100, 100, 97,
       94, 100, 100, 98, 95, 100, 100, 99, 96, 100, 100, 100, 100, 100, 100, 100, 100, 100, 100, 100,
       100, 100, 98, 95, 92, 90, 96, 88, 85, 93, 87, 83, 91, 86, 81, 89, 94, 85, 80, 88,
       93, 84, 79, 87, 92, 83, 78, 86, 100]

series_a = [a01, a02, a03, a04, a05, a06, a07, a08, a09, a10, a11, a12, a13, a14, a15,
            a16, a17, a18, a19, a20, a21, a22, a23, a24, a25, a26, a27, a28, a29, a30]
series_b = [b01, b02, b03, b04, b05, b06, b07, b08, b09, b10, b11, b12, b13, b14, b15, b16,
            b17, b18, b19, b20, b21, b22, b23, b24, b25, b26, b27, b28, b29, b30, b31, b32]

bad = [(p + str(i + 1), len(s)) for p, grp in (("a", series_a), ("b", series_b))
       for i, s in enumerate(grp) if len(s) != N_DAYS]
if bad:
    raise ValueError(f"length mismatch: {bad}")


def long_frame(series, zeros, hund):
    rows = []
    for vals in series:
        for d, v in zip(dates, vals):
            rows.append((d, v))
    for d, c in zip(dates, zeros):
        for k in range(c):
            rows.append((d, k % 2))
    for d, c in zip(dates, hund):
        for k in range(c):
            rows.append((d, 100))
    return pd.DataFrame(rows, columns=["date", "value"])


# ---------------- style ----------------
sns.set_theme(style="ticks")
plt.rcParams["font.family"] = ["Liberation Sans", "DejaVu Sans"]
plt.rcParams["axes.linewidth"] = 1.2

W, H = 992, 841
fig = plt.figure(figsize=(W / 100, H / 100), dpi=100)
ax_l, ax_r = 91 / W, 982 / W
axes = [fig.add_axes([ax_l, 1 - 393 / H, ax_r - ax_l, 385 / H]),
        fig.add_axes([ax_l, 1 - 795 / H, ax_r - ax_l, 385 / H])]

POINT_COLOR = "#2a68b0"
RED = "#e3191c"
INK = "#1e1e1e"
x0 = pd.Timestamp(START) - pd.Timedelta(days=3.5)
x1 = pd.Timestamp("2015-05-01") + pd.Timedelta(days=2.45)

frames = [long_frame(series_a, zeros_a, hund_a), long_frame(series_b, zeros_b, hund_b)]
reds = [red_a, red_b]

for i, ax in enumerate(axes):
    ax.axvspan(pd.Timestamp(window_start), pd.Timestamp(window_end),
               facecolor="#ebebeb", edgecolor="none", zorder=0)
    for dstr in (window_start, window_end):
        ax.axvline(pd.Timestamp(dstr), color=INK, lw=1.2, zorder=1)

    sns.scatterplot(data=frames[i], x="date", y="value", ax=ax, s=20,
                    color=POINT_COLOR, alpha=0.45, linewidth=1.05, legend=False, zorder=2)
    coll = ax.collections[-1]
    coll.set_facecolor("none")
    coll.set_edgecolor(POINT_COLOR)

    sns.lineplot(x=dates, y=reds[i], ax=ax, color=RED, lw=3.2, zorder=4)

    ax.set_xlim(x0, x1)
    ax.set_ylim(-4.2, 120.4)
    ax.set_yticks([0, 20, 40, 60, 80, 100])
    ax.set_yticks([10, 30, 50, 70, 90], minor=True)
    ax.set_xticks(pd.to_datetime(tick_dates))
    ax.xaxis.set_minor_locator(mdates.DayLocator())
    ax.xaxis.set_major_formatter(mdates.DateFormatter("%b %d"))
    ax.tick_params(axis="both", which="major", length=7, width=1.2, labelsize=14.5,
                   colors=INK, pad=4)
    ax.tick_params(axis="both", which="minor", length=4, width=1.0, colors=INK)
    ax.tick_params(axis="x", which="major", pad=10)
    for sp in ax.spines.values():
        sp.set_visible(True)
        sp.set_color(INK)
    ax.set_xlabel("")
    ax.set_ylabel("")
    if i == 0:
        ax.tick_params(axis="x", labelbottom=False)

    # titles
    ax.text(0.018, 0.951, panel_titles[i], transform=ax.transAxes, fontsize=17.5,
            ha="left", va="center", color="#111111")
    ax.text(0.973, 0.951, panel_tags[i], transform=ax.transAxes, fontsize=17.5,
            ha="right", va="center", color="#111111")

    # period arrows
    base_kw = dict(arrowstyle="<->,head_length=0.5,head_width=0.45", color="#111111",
                   lw=1.3, mutation_scale=12)
    ax.annotate("", xy=(mdates.date2num(pd.Timestamp(START)), 104.5),
                xytext=(mdates.date2num(pd.Timestamp(schip_date)), 104.5),
                arrowprops=dict(base_kw, shrinkA=3, shrinkB=0), annotation_clip=False)
    ax.annotate("", xy=(mdates.date2num(pd.Timestamp(schip_date)), 104.5),
                xytext=(mdates.date2num(pd.Timestamp("2015-05-01")), 104.5),
                arrowprops=dict(base_kw, shrinkA=0, shrinkB=3), annotation_clip=False)
    ax.text(pd.Timestamp("2015-03-28") + pd.Timedelta(hours=3), 109.4, "Pre-SCHIP",
            fontsize=12.5, style="italic", ha="right", va="center", color="#222222")
    ax.text(pd.Timestamp("2015-04-04") + pd.Timedelta(hours=23), 109.4, "Post-SCHIP",
            fontsize=12.5, style="italic", ha="left", va="center", color="#222222")

# dashed SCHIP line through both panels
fig.canvas.draw()
xd = mdates.date2num(pd.Timestamp(schip_date))
xpix = axes[0].transData.transform((xd, 0))[0]
xf = xpix / W
fig.add_artist(Line2D([xf, xf], [1 - 795 / H, 0.999], transform=fig.transFigure,
                      color="#111111", lw=2.6, linestyle=(0, (5, 3.5)), zorder=10))

fig.text(18 / W, 1 - 447 / H, "Relative Search Volume", rotation=90, ha="center",
         va="center", fontsize=14.5, color="#222222")

fig.savefig("out.png", dpi=100)
